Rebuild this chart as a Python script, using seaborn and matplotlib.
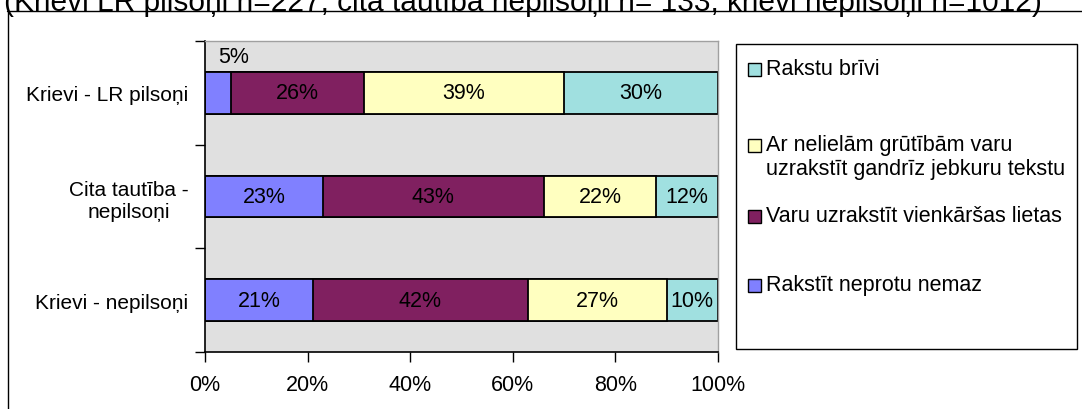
import numpy as np
import pandas as pd
import seaborn as sns
import matplotlib.pyplot as plt
from matplotlib.patches import Rectangle
from matplotlib.lines import Line2D
from matplotlib.ticker import FixedLocator, PercentFormatter

# dati
groups = ["Krievi - LR pilsoņi", "Cita tautība -\nnepilsoņi", "Krievi - nepilsoņi"]
nemaz = [5, 23, 21]          # Rakstīt neprotu nemaz
vienkarsas = [26, 43, 42]    # Varu uzrakstīt vienkāršas lietas
gandriz = [39, 22, 27]       # Ar nelielām grūtībām ...
brivi = [30, 12, 10]         # Rakstu brīvi

series_names = ["Rakstīt neprotu nemaz",
                "Varu uzrakstīt vienkāršas lietas",
                "Ar nelielām grūtībām varu\nuzrakstīt gandrīz jebkuru tekstu",
                "Rakstu brīvi"]
colors = ["#8080FF", "#802060", "#FFFFC0", "#A0E0E0"]
title = "(Krievi LR pilsoņi n=227; cita tautība nepilsoņi n= 133; krievi nepilsoņi n=1012)"

sns.set_theme(style="white")
plt.rcParams["font.family"] = ["Liberation Sans", "DejaVu Sans"]
FS = 15.5

W, H = 1082, 410
fig = plt.figure(figsize=(W / 100, H / 100), dpi=100)
ax = fig.add_axes([205 / W, 1 - 353 / H, (718 - 205) / W, (353 - 42) / H])
ax.set_facecolor("#E0E0E0")

vals = np.array([nemaz, vienkarsas, gandriz, brivi], dtype=float)
cum = vals.cumsum(axis=0)

# sakrautas joslas: zīmē no garākās uz īsāko
for i in range(3, -1, -1):
    df = pd.DataFrame({"grupa": groups, "v": cum[i]})
    sns.barplot(data=df, x="v", y="grupa", orient="h", color=colors[i],
                saturation=1, width=0.4, edgecolor="black", linewidth=1.3,
                ax=ax)

# vērtību uzraksti
for i in range(4):
    for j in range(3):
        v = vals[i, j]
        xc = cum[i, j] - v / 2
        if v < 8:
            ax.text(cum[i, j] + 0.6, j - 0.35, f"{v:.0f}%", ha="center",
                    va="center", fontsize=FS, color="black")
        else:
            ax.text(xc, j, f"{v:.0f}%", ha="center", va="center",
                    fontsize=FS, color="black")

ax.set_xlim(0, 100)
ax.set_ylim(2.5, -0.5)
ax.set_xlabel("")
ax.set_ylabel("")
ax.xaxis.set_major_locator(FixedLocator([0, 20, 40, 60, 80, 100]))
ax.xaxis.set_major_formatter(PercentFormatter(decimals=0))
ax.yaxis.set_minor_locator(FixedLocator([-0.5, 0.5, 1.5, 2.5]))
ax.tick_params(axis="x", which="major", direction="out", length=7, width=1,
               color="black", labelsize=FS, pad=9, bottom=True,
               labelcolor="black")
ax.tick_params(axis="y", which="major", length=0, labelsize=15, pad=12,
               labelcolor="black")
ax.tick_params(axis="y", which="minor", direction="out", length=7, width=1,
               color="black", left=True)
for lab in ax.get_yticklabels():
    lab.set_horizontalalignment("right")
    lab.set_multialignment("center")

for s in ["left", "bottom"]:
    ax.spines[s].set_color("black")
    ax.spines[s].set_linewidth(1.2)
for s in ["top", "right"]:
    ax.spines[s].set_color("#A0A0A0")
    ax.spines[s].set_linewidth(1.0)

# leģenda (kā Excel: katrs ieraksts savā rindā)
px = lambda x, y: (x / W, 1 - y / H)
fig.add_artist(Rectangle(px(736, 350), (1077 - 736) / W, (350 - 45) / H,
                         transform=fig.transFigure, facecolor="white",
                         edgecolor="black", linewidth=1.0))
leg_y = [70, 146, 217, 286]
for k, i in enumerate(range(3, -1, -1)):
    y = leg_y[k]
    fig.add_artist(Rectangle(px(748, y + 7), 13 / W, 13 / H,
                             transform=fig.transFigure, facecolor=colors[i],
                             edgecolor="black", linewidth=1.0))
    fig.text(*px(766, y - 11), series_names[i], ha="left", va="top",
             fontsize=FS, linespacing=1.2, color="black")

# ārējais rāmis
fig.add_artist(Line2D([7 / W, 1], [1 - 12 / H, 1 - 12 / H], color="black",
                      linewidth=1.0, transform=fig.transFigure))
fig.add_artist(Line2D([8 / W, 8 / W], [0, 1 - 12 / H], color="black",
                      linewidth=1.0, transform=fig.transFigure))

fig.text(523 / W, 1 - 11 / H, title, ha="center", va="baseline",
         fontsize=21.5, color="black")

fig.savefig("out.png", dpi=100)
